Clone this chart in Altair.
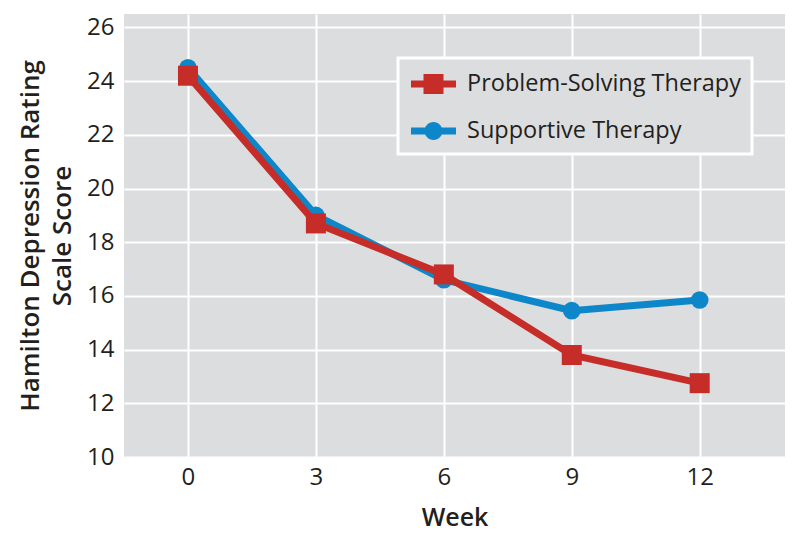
import altair as alt
import pandas as pd

weeks = [0, 3, 6, 9, 12]
pst = [24.2, 18.7, 16.8, 13.8, 12.75]
st = [24.5, 19.0, 16.6, 15.45, 15.85]
series_names = ["Problem-Solving Therapy", "Supportive Therapy"]
colors = ["#c62d28", "#0d87c9"]
x_ticks = [0, 3, 6, 9, 12]
y_ticks = [10, 12, 14, 16, 18, 20, 22, 24, 26]

rows = []
for w, v in zip(weeks, pst):
    rows.append({"week": w, "score": v, "series": series_names[0]})
for w, v in zip(weeks, st):
    rows.append({"week": w, "score": v, "series": series_names[1]})
df = pd.DataFrame(rows)

FONT = "Open Sans"
TXT = "#231f20"

sq_path = ("M-0.867,-0.233 H-0.033 V-0.667 H1.3 V-0.233 H2.133 V0.233 H1.3 V0.667 "
           "H-0.033 V0.233 H-0.867 Z")
ci_path = ("M-0.867,-0.233 H2.133 V0.233 H-0.867 Z "
           "M0.033,0 A0.6,0.6 0 1,1 1.233,0 A0.6,0.6 0 1,1 0.033,0 Z")

legend = alt.Legend(
    title=None,
    orient="none",
    legendX=274,
    legendY=44,
    fillColor="#dcdddf",
    padding=11,
    rowPadding=20,
    symbolSize=900,
    symbolStrokeWidth=0,
    symbolOpacity=1,
    labelOffset=28,
    labelFont=FONT,
    labelFontSize=23.5,
    labelColor=TXT,
    labelLimit=400,
)

x_enc = alt.X(
    "week:Q",
    scale=alt.Scale(domain=[-1.5, 14], nice=False, zero=False),
    axis=alt.Axis(
        values=x_ticks,
        title="Week",
        ticks=False,
        domain=False,
        grid=True,
        gridColor="white",
        gridWidth=2,
        gridOpacity=1,
        labelFont=FONT,
        labelFontSize=24,
        labelColor=TXT,
        labelPadding=8,
        titleFont=FONT,
        titleFontSize=25,
        titleFontWeight=600,
        titleColor=TXT,
        titleBaseline="middle",
        titleY=60,
    ),
)
y_enc = alt.Y(
    "score:Q",
    scale=alt.Scale(domain=[10, 26.5], nice=False, zero=False),
    axis=alt.Axis(
        values=y_ticks,
        title=["Hamilton Depression Rating", "Scale Score"],
        ticks=False,
        domain=False,
        grid=True,
        gridColor="white",
        gridWidth=2,
        gridOpacity=1,
        labelFont=FONT,
        labelFontSize=24,
        labelColor=TXT,
        labelPadding=10,
        titleFont=FONT,
        titleFontSize=26,
        titleFontWeight=600,
        titleColor=TXT,
        titleLineHeight=32,
        titleBaseline="middle",
        titleX=-94,
        titleY=221.5,
        titleAngle=-90,
    ),
)

base = alt.Chart(df)


def layers_for(idx, shape, size):
    name = series_names[idx]
    sub = base.transform_filter(alt.datum.series == name)
    line = sub.mark_line(strokeWidth=7, color=colors[idx]).encode(x=x_enc, y=y_enc)
    pts = sub.mark_point(shape=shape, filled=True, size=size, opacity=1, color=colors[idx]).encode(
        x=x_enc, y=y_enc
    )
    return line, pts


l_st, p_st = layers_for(1, "circle", 310)
l_pst, p_pst = layers_for(0, "square", 400)

legend_layer = base.transform_filter("datum.week < -100").mark_point(filled=True).encode(
    x=x_enc,
    y=y_enc,
    color=alt.Color("series:N", scale=alt.Scale(domain=series_names, range=colors), legend=legend),
    shape=alt.Shape("series:N", scale=alt.Scale(domain=series_names, range=[sq_path, ci_path]), legend=legend),
)

chart = alt.layer(legend_layer, l_st, p_st, l_pst, p_pst).properties(
    width=661,
    height=443,
    autosize=alt.AutoSizeParams(type="none"),
    padding={"left": 116, "top": 6, "right": 0, "bottom": 75},
    background="white",
).configure_view(fill="#dcdddf", stroke=None).configure_legend(
    strokeColor="white", strokeWidth=3
)

chart.save("out.html", embed_options={"renderer": "svg", "actions": False})
